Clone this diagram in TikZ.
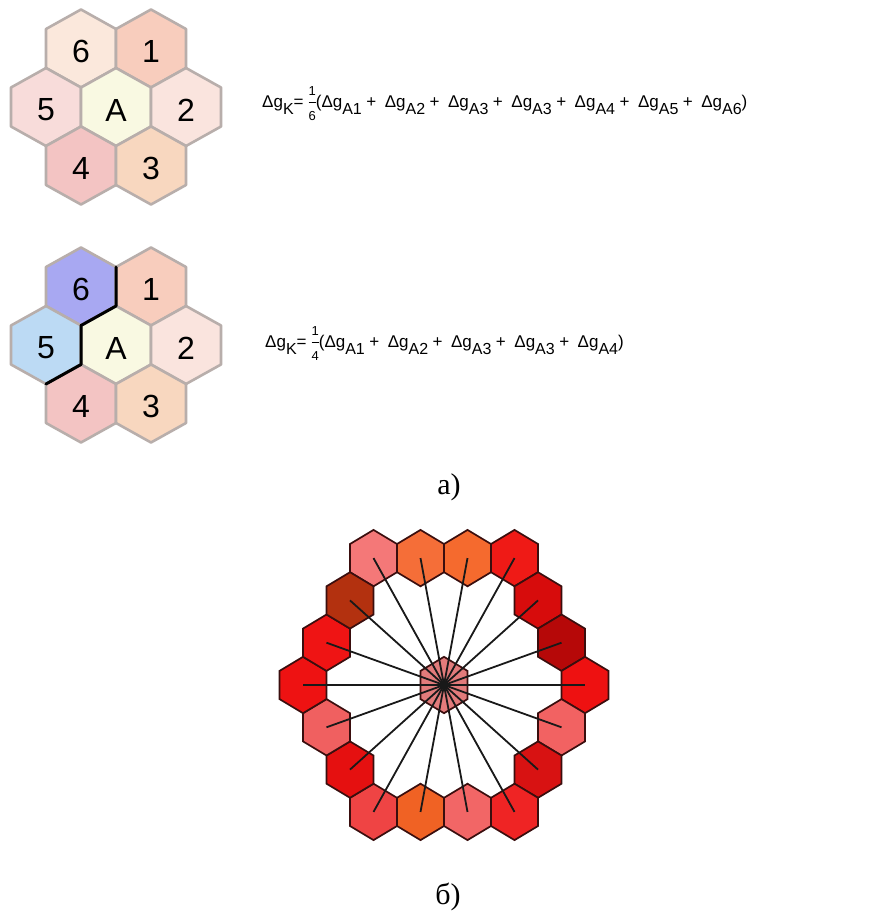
\documentclass[tikz,border=0pt]{standalone}
\usepackage{fontspec}
\setmainfont{Liberation Sans}
\newfontfamily\seriffont{Liberation Serif}
\definecolor{cellgray}{HTML}{B8AEAB}
\definecolor{ringedge}{HTML}{3A0E0E}
\definecolor{aSix}{HTML}{FBE8DC}
\definecolor{aOne}{HTML}{F8CDBD}
\definecolor{aFive}{HTML}{F8DCDA}
\definecolor{aCen}{HTML}{F9F9E2}
\definecolor{aTwo}{HTML}{FAE4DE}
\definecolor{aFour}{HTML}{F3C4C3}
\definecolor{aThree}{HTML}{F8D7BF}
\definecolor{bSix}{HTML}{A8A8F2}
\definecolor{bFive}{HTML}{BCDAF4}
\newcommand\hexcell[6]{%
  \coordinate (#1) at (#2,#3);
  \path[#6] (#2,#3-#5) -- ++(#4,#5/2) -- ++(0,#5) -- ++(-#4,#5/2) -- ++(-#4,-#5/2) -- ++(0,-#5) -- cycle;}
\newcommand\sbs[1]{\raisebox{-7pt}{\fontsize{16}{16}\selectfont #1}}
\newcommand\pls{\hspace{4.5pt}+\hspace{8.5pt}}
\newcommand\frc[2]{{\fontsize{13}{13}\selectfont
  \setbox0\hbox{#1}%
  \makebox[\wd0]{\raisebox{12pt}{#1}}\llap{\rule[4.6pt]{\wd0}{0.8pt}}\llap{\raisebox{-13pt}{#2}}}}
\tikzset{
  cellhex/.style={draw=cellgray, line width=2.6pt, line join=round},
  ringhex/.style={draw=ringedge, line width=1.7pt, line join=miter},
  digit/.style={font=\fontsize{32}{32}\selectfont, text=black, inner sep=0pt},
  spoke/.style={draw=black!90, line width=1.8pt},
  formula/.style={font=\fontsize{17}{17}\selectfont, inner sep=0pt, anchor=base west},
  caption/.style={font=\seriffont\fontsize{30}{30}\selectfont, inner sep=0pt, anchor=base},
  border/.style={draw=black, line width=3pt, line cap=round, line join=round}
}
\begin{document}
\begin{tikzpicture}[x=1pt,y=-1pt]
\fill[white] (0,0) rectangle (871,911);
\useasboundingbox (0,0) rectangle (871,911);
% ---------- cluster 1
\hexcell{a6}{81}{48.5}{35}{39}{cellhex,fill=aSix}
\hexcell{a1}{151}{48.5}{35}{39}{cellhex,fill=aOne}
\hexcell{a5}{46}{107}{35}{39}{cellhex,fill=aFive}
\hexcell{aA}{116}{107}{35}{39}{cellhex,fill=aCen}
\hexcell{a2}{186}{107}{35}{39}{cellhex,fill=aTwo}
\hexcell{a4}{81}{165.5}{35}{39}{cellhex,fill=aFour}
\hexcell{a3}{151}{165.5}{35}{39}{cellhex,fill=aThree}
\node[digit] (ta6) at (81,51.5) {6};
\node[digit] (ta1) at (151,51.5) {1};
\node[digit] (ta5) at (46,110) {5};
\node[digit] (taA) at (116,110) {A};
\node[digit] (ta2) at (186,110) {2};
\node[digit] (ta4) at (81,168.5) {4};
\node[digit] (ta3) at (151,168.5) {3};
\node[formula] (f1) at (262,107) {Δg\sbs{K}=\hspace{5pt}\frc{1}{6}(Δg\sbs{A1}\pls Δg\sbs{A2}\pls Δg\sbs{A3}\pls Δg\sbs{A3}\pls Δg\sbs{A4}\pls Δg\sbs{A5}\pls Δg\sbs{A6})};
% ---------- cluster 2
\hexcell{b6}{81}{286.5}{35}{39}{cellhex,fill=bSix}
\hexcell{b1}{151}{286.5}{35}{39}{cellhex,fill=aOne}
\hexcell{b5}{46}{345}{35}{39}{cellhex,fill=bFive}
\hexcell{bA}{116}{345}{35}{39}{cellhex,fill=aCen}
\hexcell{b2}{186}{345}{35}{39}{cellhex,fill=aTwo}
\hexcell{b4}{81}{403.5}{35}{39}{cellhex,fill=aFour}
\hexcell{b3}{151}{403.5}{35}{39}{cellhex,fill=aThree}
\node[digit] (tb6) at (81,289.5) {6};
\node[digit] (tb1) at (151,289.5) {1};
\node[digit] (tb5) at (46,348) {5};
\node[digit] (tbA) at (116,348) {A};
\node[digit] (tb2) at (186,348) {2};
\node[digit] (tb4) at (81,406.5) {4};
\node[digit] (tb3) at (151,406.5) {3};
\coordinate (k1) at (116,267);
\coordinate (k2) at (116,306);
\coordinate (k3) at (81,325.5);
\coordinate (k4) at (81,364.5);
\coordinate (k5) at (46,384);
\draw[border] (k1) -- (k2) -- (k3) -- (k4) -- (k5);
\node[formula] (f2) at (265,347) {Δg\sbs{K}=\hspace{5pt}\frc{1}{4}(Δg\sbs{A1}\pls Δg\sbs{A2}\pls Δg\sbs{A3}\pls Δg\sbs{A3}\pls Δg\sbs{A4})};
\node[caption] (capa) at (449,494) {а)};
% ---------- ring
\hexcell{r1}{373.5}{558.1}{23.5}{28.2}{ringhex,fill={rgb,255:red,244;green,120;blue,120}}
\hexcell{r2}{420.5}{558.1}{23.5}{28.2}{ringhex,fill={rgb,255:red,245;green,110;blue,56}}
\hexcell{r3}{467.5}{558.1}{23.5}{28.2}{ringhex,fill={rgb,255:red,245;green,106;blue,46}}
\hexcell{r4}{514.5}{558.1}{23.5}{28.2}{ringhex,fill={rgb,255:red,239;green,26;blue,22}}
\hexcell{r5}{538}{600.4}{23.5}{28.2}{ringhex,fill={rgb,255:red,215;green,12;blue,12}}
\hexcell{r6}{561.5}{642.7}{23.5}{28.2}{ringhex,fill={rgb,255:red,182;green,8;blue,8}}
\hexcell{r7}{585}{685}{23.5}{28.2}{ringhex,fill={rgb,255:red,238;green,17;blue,17}}
\hexcell{r8}{561.5}{727.3}{23.5}{28.2}{ringhex,fill={rgb,255:red,242;green,98;blue,98}}
\hexcell{r9}{538}{769.6}{23.5}{28.2}{ringhex,fill={rgb,255:red,216;green,18;blue,18}}
\hexcell{r10}{514.5}{811.9}{23.5}{28.2}{ringhex,fill={rgb,255:red,239;green,36;blue,36}}
\hexcell{r11}{467.5}{811.9}{23.5}{28.2}{ringhex,fill={rgb,255:red,242;green,102;blue,102}}
\hexcell{r12}{420.5}{811.9}{23.5}{28.2}{ringhex,fill={rgb,255:red,240;green,98;blue,36}}
\hexcell{r13}{373.5}{811.9}{23.5}{28.2}{ringhex,fill={rgb,255:red,239;green,68;blue,68}}
\hexcell{r14}{350}{769.6}{23.5}{28.2}{ringhex,fill={rgb,255:red,229;green,16;blue,16}}
\hexcell{r15}{326.5}{727.3}{23.5}{28.2}{ringhex,fill={rgb,255:red,240;green,96;blue,96}}
\hexcell{r16}{303}{685}{23.5}{28.2}{ringhex,fill={rgb,255:red,238;green,18;blue,18}}
\hexcell{r17}{326.5}{642.7}{23.5}{28.2}{ringhex,fill={rgb,255:red,239;green,20;blue,20}}
\hexcell{r18}{350}{600.4}{23.5}{28.2}{ringhex,fill={rgb,255:red,179;green,49;blue,15}}
\hexcell{c0}{444}{685}{23.5}{28.2}{ringhex,fill={rgb,255:red,226;green,123;blue,123}}
\foreach \i in {1,...,18} \draw[spoke] (c0) -- (r\i);
\node[caption] (capb) at (448,904) {б)};
\end{tikzpicture}
\end{document}
